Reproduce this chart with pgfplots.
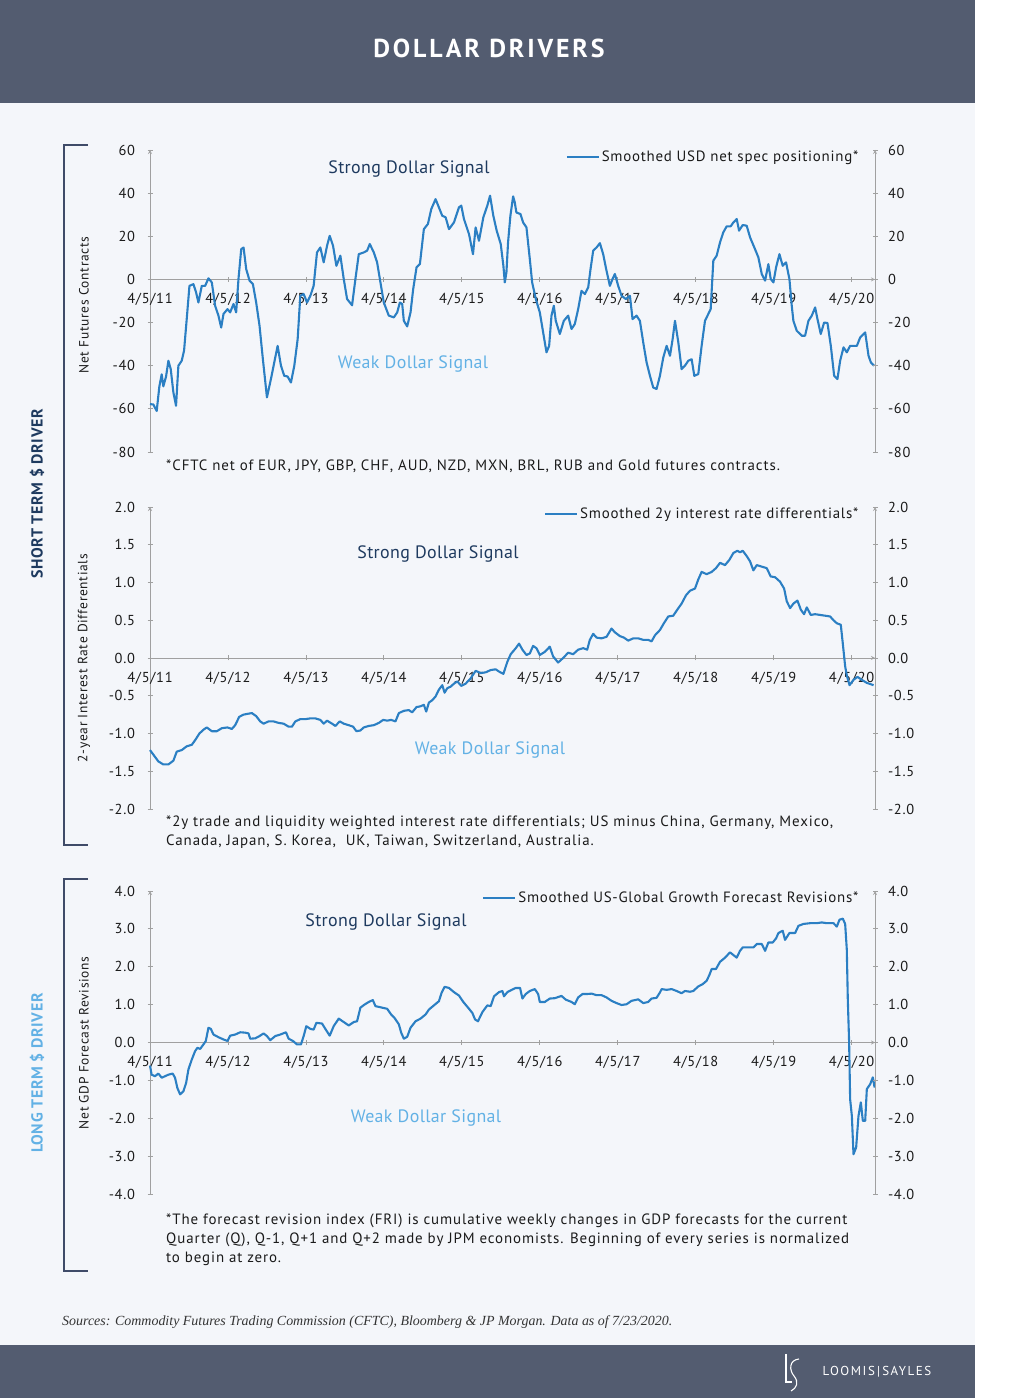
\documentclass[border=0pt]{standalone}
\usepackage{pgfplots}
\pgfplotsset{compat=1.18}
\usepackage{pgfplotstable}
\usepackage{fontspec}
\setmainfont{PT Sans}
\newfontfamily\srcfont{Liberation Serif}
\newfontfamily\tickfont[LetterSpace=5]{PT Sans}
\newfontfamily\spfont[LetterSpace=6]{PT Sans}
\definecolor{hdr}{HTML}{535C70}
\definecolor{bg}{HTML}{F4F6FA}
\definecolor{lineblue}{HTML}{2B7FC3}
\definecolor{navy}{HTML}{1E3A5F}
\definecolor{lightblue}{HTML}{62B1E5}
\definecolor{axgray}{HTML}{A0A0A0}
\definecolor{brk}{HTML}{3F4B68}
\definecolor{txt}{HTML}{1A1A1A}

\pgfplotstableread{
x y
0.000 -57.8
0.043 -58
0.086 -61
0.120 -49.6
0.150 -44
0.171 -49.6
0.206 -45
0.236 -37.7
0.266 -41.6
0.300 -52.4
0.334 -58.6
0.364 -40
0.407 -37.7
0.437 -33
0.471 -18.4
0.506 -3
0.557 -2.2
0.591 -6
0.621 -10.7
0.664 -3
0.707 -3
0.750 0.5
0.793 -1.4
0.835 -12.2
0.878 -16.8
0.913 -22.3
0.943 -16
0.994 -13.8
1.028 -15.3
1.071 -11.4
1.105 -15.3
1.135 0.2
1.170 14
1.200 14.8
1.234 4.8
1.277 -0.6
1.320 -2.2
1.362 -10.7
1.405 -21.5
1.448 -37
1.500 -54.7
1.551 -46.2
1.594 -38.5
1.637 -30.8
1.680 -40
1.722 -44.7
1.765 -45
1.808 -47.8
1.851 -40
1.894 -27.7
1.928 -7.6
1.971 -6.8
2.014 -10.7
2.057 -7.6
2.099 -3
2.142 12.5
2.185 14.8
2.228 7.9
2.271 15.6
2.305 20.2
2.348 15.6
2.391 6.3
2.442 11
2.485 0.2
2.528 -9.1
2.592 -12
2.635 0.2
2.678 11.7
2.742 12.5
2.785 13.3
2.819 16.4
2.871 12.5
2.913 7.9
2.956 -1.4
2.999 -10.7
3.063 -16.8
3.128 -17.6
3.171 -15.3
3.205 -10.7
3.235 -11.4
3.256 -19.2
3.299 -21.8
3.342 -15.3
3.376 -4.5
3.419 5.6
3.462 7.1
3.513 23.3
3.565 25.7
3.608 32.6
3.663 37.2
3.697 34.2
3.749 29.5
3.792 28.8
3.835 23.3
3.899 26.4
3.963 33.4
3.993 34.2
4.027 28
4.092 21
4.143 11.7
4.177 24.1
4.220 17.9
4.276 28.8
4.327 34.2
4.362 38.8
4.404 29.5
4.447 22.6
4.499 16.4
4.533 6.3
4.551 -1.4
4.572 3.2
4.593 17.2
4.623 29.5
4.658 38.5
4.679 35.7
4.700 31
4.752 30.3
4.786 26.4
4.829 24.1
4.872 9.4
4.902 -1.4
4.949 -9.1
5.000 -15.3
5.043 -24.6
5.086 -33.8
5.120 -30.8
5.150 -16.8
5.180 -12.2
5.205 -19.2
5.257 -25.3
5.308 -19.2
5.364 -16.8
5.407 -23
5.449 -20.7
5.492 -13.8
5.535 -5.3
5.578 -6.8
5.621 -3.7
5.651 4.8
5.685 13.3
5.728 14.8
5.771 16.8
5.813 11.7
5.856 4
5.899 -3
5.933 0.2
5.963 2.5
6.006 -3
6.049 -7.6
6.104 -9.1
6.156 -7.6
6.190 -18.4
6.241 -16.8
6.284 -19.2
6.327 -29.2
6.370 -38.5
6.413 -44.7
6.455 -50.1
6.498 -50.8
6.541 -44.7
6.584 -36.2
6.627 -30.8
6.670 -35.4
6.704 -27.7
6.734 -19.2
6.777 -29.2
6.819 -41.6
6.862 -40
6.905 -37.7
6.948 -37
6.982 -44.7
7.033 -43.9
7.076 -30.8
7.119 -19.2
7.162 -16
7.192 -13.8
7.226 8.7
7.269 11
7.312 17.2
7.354 21.8
7.397 24.6
7.449 24.6
7.483 26.4
7.526 28
7.556 22.6
7.603 25.2
7.654 24.9
7.697 19.5
7.761 14
7.804 10.2
7.847 2.5
7.890 -0.6
7.932 7.1
7.962 0.2
7.997 -1.4
8.031 5.6
8.074 11.7
8.116 6.3
8.159 7.9
8.202 0.2
8.232 -12.2
8.253 -19.2
8.296 -23.8
8.360 -26.1
8.403 -26.1
8.446 -19.2
8.489 -16.8
8.532 -13
8.562 -18.4
8.604 -25.3
8.647 -20
8.690 -20.2
8.733 -30.8
8.776 -44.7
8.818 -46.2
8.853 -37.7
8.896 -31.5
8.938 -33.8
8.981 -30.8
9.067 -30.8
9.110 -26.9
9.174 -24.6
9.217 -35.4
9.247 -38.5
9.289 -40
}\dataA

\pgfplotstableread{
x y
0.000 -1.22
0.043 -1.28
0.107 -1.37
0.171 -1.41
0.236 -1.41
0.300 -1.36
0.343 -1.24
0.407 -1.22
0.471 -1.17
0.536 -1.15
0.578 -1.09
0.634 -1.00
0.686 -0.95
0.728 -0.92
0.793 -0.97
0.857 -0.97
0.921 -0.93
0.994 -0.92
1.050 -0.94
1.093 -0.89
1.144 -0.78
1.200 -0.75
1.251 -0.74
1.307 -0.73
1.362 -0.77
1.414 -0.84
1.457 -0.87
1.521 -0.84
1.585 -0.84
1.650 -0.86
1.714 -0.87
1.778 -0.91
1.821 -0.91
1.864 -0.84
1.928 -0.81
1.992 -0.81
2.057 -0.80
2.121 -0.80
2.185 -0.82
2.228 -0.87
2.271 -0.83
2.335 -0.87
2.378 -0.90
2.434 -0.84
2.485 -0.87
2.549 -0.89
2.605 -0.91
2.648 -0.97
2.699 -0.96
2.742 -0.92
2.806 -0.90
2.871 -0.89
2.935 -0.86
2.991 -0.82
3.042 -0.83
3.093 -0.82
3.149 -0.84
3.192 -0.73
3.256 -0.70
3.320 -0.69
3.363 -0.72
3.419 -0.65
3.470 -0.64
3.513 -0.62
3.543 -0.71
3.578 -0.59
3.620 -0.56
3.663 -0.51
3.706 -0.42
3.749 -0.36
3.779 -0.46
3.813 -0.40
3.856 -0.38
3.899 -0.34
3.942 -0.31
3.993 -0.37
4.049 -0.34
4.113 -0.27
4.177 -0.17
4.242 -0.20
4.306 -0.19
4.370 -0.16
4.434 -0.15
4.477 -0.18
4.533 -0.21
4.584 -0.05
4.627 0.05
4.692 0.13
4.734 0.19
4.777 0.11
4.829 0.04
4.872 0.06
4.914 0.16
4.957 0.13
5.000 0.04
5.064 0.08
5.128 0.15
5.171 0.02
5.235 -0.06
5.300 0.00
5.364 0.07
5.428 0.05
5.492 0.11
5.557 0.13
5.608 0.11
5.642 0.24
5.685 0.32
5.728 0.27
5.792 0.26
5.856 0.28
5.920 0.39
5.963 0.34
6.027 0.29
6.079 0.27
6.134 0.23
6.199 0.26
6.263 0.26
6.327 0.24
6.391 0.24
6.434 0.22
6.477 0.30
6.541 0.37
6.592 0.46
6.648 0.55
6.712 0.56
6.764 0.64
6.819 0.72
6.875 0.83
6.926 0.89
6.991 0.92
7.033 1.04
7.076 1.14
7.140 1.11
7.205 1.14
7.260 1.19
7.312 1.26
7.376 1.23
7.432 1.30
7.483 1.39
7.534 1.42
7.568 1.40
7.603 1.42
7.654 1.35
7.697 1.28
7.740 1.16
7.783 1.23
7.847 1.21
7.911 1.19
7.962 1.08
8.018 1.07
8.082 1.01
8.134 0.92
8.168 0.75
8.211 0.66
8.253 0.72
8.305 0.76
8.348 0.64
8.390 0.58
8.425 0.67
8.476 0.57
8.532 0.58
8.596 0.57
8.660 0.56
8.724 0.55
8.767 0.50
8.810 0.46
8.861 0.44
8.887 0.19
8.917 -0.11
8.938 -0.23
8.973 -0.36
9.024 -0.29
9.075 -0.25
9.131 -0.29
9.195 -0.33
9.281 -0.36
}\dataB

\pgfplotstableread{
x y
0.000 -0.61
0.021 -0.85
0.064 -0.89
0.107 -0.82
0.150 -0.93
0.193 -0.89
0.236 -0.85
0.291 -0.82
0.321 -0.93
0.351 -1.20
0.386 -1.37
0.428 -1.29
0.463 -1.07
0.493 -0.71
0.536 -0.45
0.578 -0.23
0.608 -0.14
0.643 -0.17
0.686 -0.05
0.716 0.04
0.750 0.39
0.780 0.36
0.814 0.21
0.878 0.14
0.943 0.08
0.994 0.04
1.028 0.18
1.093 0.21
1.157 0.27
1.221 0.26
1.264 0.24
1.285 0.10
1.350 0.11
1.405 0.17
1.457 0.24
1.500 0.17
1.542 0.06
1.607 0.17
1.671 0.21
1.744 0.27
1.778 0.10
1.834 0.04
1.885 -0.05
1.937 -0.05
1.971 0.17
2.005 0.43
2.057 0.36
2.099 0.34
2.134 0.52
2.207 0.50
2.249 0.36
2.305 0.18
2.356 0.43
2.421 0.63
2.485 0.54
2.549 0.45
2.614 0.54
2.656 0.56
2.699 0.92
2.751 1.00
2.806 1.07
2.858 1.12
2.892 0.96
2.956 0.93
3.042 0.89
3.093 0.74
3.136 0.65
3.192 0.48
3.222 0.26
3.256 0.10
3.299 0.15
3.342 0.39
3.406 0.56
3.470 0.63
3.535 0.74
3.578 0.87
3.642 0.98
3.706 1.09
3.740 1.31
3.779 1.47
3.835 1.44
3.899 1.33
3.963 1.24
4.019 1.07
4.092 0.89
4.135 0.78
4.169 0.61
4.207 0.56
4.263 0.80
4.327 0.98
4.370 0.96
4.413 1.22
4.477 1.33
4.520 1.36
4.541 1.22
4.584 1.33
4.649 1.40
4.692 1.44
4.747 1.44
4.777 1.16
4.820 1.28
4.872 1.36
4.936 1.41
4.979 1.28
5.000 1.07
5.064 1.07
5.128 1.16
5.193 1.17
5.278 1.23
5.334 1.13
5.407 1.07
5.449 1.01
5.492 1.19
5.548 1.28
5.608 1.28
5.664 1.29
5.728 1.25
5.792 1.25
5.856 1.19
5.920 1.10
5.985 1.04
6.049 0.99
6.113 1.01
6.177 1.10
6.263 1.14
6.327 1.04
6.391 1.07
6.434 1.16
6.498 1.18
6.541 1.32
6.563 1.41
6.627 1.39
6.691 1.41
6.755 1.36
6.819 1.30
6.862 1.36
6.926 1.34
6.969 1.36
7.033 1.48
7.089 1.54
7.140 1.63
7.175 1.78
7.205 1.94
7.260 1.94
7.312 2.13
7.376 2.24
7.440 2.38
7.483 2.31
7.526 2.24
7.568 2.42
7.603 2.51
7.676 2.51
7.740 2.51
7.783 2.60
7.847 2.60
7.890 2.42
7.932 2.64
7.988 2.64
8.031 2.75
8.061 2.89
8.116 2.95
8.146 2.71
8.202 2.89
8.275 2.89
8.318 3.08
8.382 3.13
8.467 3.15
8.553 3.15
8.617 3.17
8.682 3.15
8.767 3.15
8.810 3.06
8.844 3.24
8.887 3.27
8.917 3.13
8.938 2.46
8.951 1.14
8.968 0
8.981 -1.50
9.003 -1.94
9.024 -2.95
9.058 -2.77
9.088 -1.94
9.118 -1.58
9.144 -2.07
9.174 -2.07
9.195 -1.23
9.238 -1.10
9.272 -0.92
9.295 -1.19
}\dataC

\pgfplotsset{
  panelbase/.style={
    scale only axis, width=725bp, height=302bp,
    xmin=0, xmax=9.3,
    anchor=south west,
    tick align=outside, major tick length=5bp,
    tick style={axgray, line width=0.8bp},
    axis line style={-, draw=axgray, line width=0.8bp},
    hide obscured x ticks=false, hide obscured y ticks=false,
    ticklabel style={font=\tickfont\fontsize{14.5}{16}\selectfont, text=txt},
    clip=false,
  },
  leftpanel/.style={panelbase, axis x line=middle, axis y line=left,
    xtick={0,1,2,3,4,5,6,7,8,9},
    xticklabels={4/5/11,4/5/12,4/5/13,4/5/14,4/5/15,4/5/16,4/5/17,4/5/18,4/5/19,4/5/20},
    xticklabel style={yshift=-8bp},
    yticklabel style={xshift=-9bp},
    legend style={at={(rel axis cs:0.980,1.005)}, anchor=north east, draw=none, fill=none,
      inner sep=0pt, font=\tickfont\fontsize{15}{17}\selectfont, text=txt},
    legend cell align=left,
    legend image code/.code={\draw[#1, line width=1.8bp] (0bp,0bp) -- (32bp,0bp);},
  },
  rightpanel/.style={panelbase, axis x line=none, axis y line=right, xtick=\empty,
    yticklabel style={xshift=7bp}},
  dataline/.style={lineblue, line width=2.1bp, line join=round, no marks},
}

\begin{document}
\begin{tikzpicture}
\begin{scope}[x=1bp,y=1bp]
  \fill[white] (0,0) rectangle (1016,1398);
  \fill[bg] (0,53) rectangle (975,1295);
  \fill[hdr] (0,1295) rectangle (975,1398);
  \fill[hdr] (0,0) rectangle (975,53);
\end{scope}

% Panel 1
\begin{axis}[leftpanel, at={(150bp,946bp)}, ymin=-80, ymax=60,
  ytick={-80,-60,-40,-20,0,20,40,60}, yticklabels={-80,-60,-40,-20,0,20,40,60}]
  \addplot[dataline] table[x=x,y=y] {\dataA};
  \addlegendentry{Smoothed USD net spec positioning*}
\end{axis}
\begin{axis}[rightpanel, at={(150bp,946bp)}, ymin=-80, ymax=60,
  ytick={-80,-60,-40,-20,0,20,40,60}, yticklabels={-80,-60,-40,-20,0,20,40,60}]
\end{axis}

% Panel 2
\begin{axis}[leftpanel, at={(150bp,589bp)}, ymin=-2, ymax=2,
  ytick={-2,-1.5,-1,-0.5,0,0.5,1,1.5,2}, yticklabels={-2.0,-1.5,-1.0,-0.5,0.0,0.5,1.0,1.5,2.0}]
  \addplot[dataline] table[x=x,y=y] {\dataB};
  \addlegendentry{Smoothed 2y interest rate differentials*}
\end{axis}
\begin{axis}[rightpanel, at={(150bp,589bp)}, ymin=-2, ymax=2,
  ytick={-2,-1.5,-1,-0.5,0,0.5,1,1.5,2}, yticklabels={-2.0,-1.5,-1.0,-0.5,0.0,0.5,1.0,1.5,2.0}]
\end{axis}

% Panel 3
\begin{axis}[leftpanel, at={(150bp,204bp)}, height=303bp, ymin=-4, ymax=4,
  ytick={-4,-3,-2,-1,0,1,2,3,4}, yticklabels={-4.0,-3.0,-2.0,-1.0,0.0,1.0,2.0,3.0,4.0}]
  \addplot[dataline] table[x=x,y=y] {\dataC};
  \addlegendentry{Smoothed US-Global Growth Forecast Revisions*}
\end{axis}
\begin{axis}[rightpanel, at={(150bp,204bp)}, height=303bp, ymin=-4, ymax=4,
  ytick={-4,-3,-2,-1,0,1,2,3,4}, yticklabels={-4.0,-3.0,-2.0,-1.0,0.0,1.0,2.0,3.0,4.0}]
\end{axis}

\begin{scope}[x=1bp,y=1bp]
  % title
  \node[white, font=\fontsize{26}{30}\selectfont\bfseries\addfontfeatures{LetterSpace=11}] at (489,1350) {DOLLAR DRIVERS};
  % signal labels
  \begin{scope}[every node/.style={font=\fontsize{18}{20}\selectfont\addfontfeatures{LetterSpace=2}}]
  \node[navy] at (409,1229) {Strong Dollar Signal};
  \node[lightblue] at (413,1034) {Weak Dollar Signal};
  \node[navy] at (438,844) {Strong Dollar Signal};
  \node[lightblue] at (490,648) {Weak Dollar Signal};
  \node[navy] at (386,476) {Strong Dollar Signal};
  \node[lightblue] at (426,280) {Weak Dollar Signal};
  \end{scope}
  % y labels
  \begin{scope}[every node/.style={txt, rotate=90, font=\fontsize{13.5}{15}\selectfont\addfontfeatures{LetterSpace=5}}]
  \node at (84,1093) {Net Futures Contracts};
  \node at (84,740) {2-year Interest Rate Differentials};
  \node at (84,355) {Net GDP Forecast Revisions};
  \end{scope}
  % side labels
  \node[navy, rotate=90, font=\fontsize{16}{18}\selectfont\bfseries\addfontfeatures{LetterSpace=4}] at (37,904) {SHORT TERM \$ DRIVER};
  \node[lightblue, rotate=90, font=\fontsize{16}{18}\selectfont\bfseries\addfontfeatures{LetterSpace=4}] at (37,325) {LONG TERM \$ DRIVER};
  % brackets
  \draw[brk, line width=1.3bp] (88,1253) -- (64,1253) -- (64,553) -- (88,553);
  \draw[brk, line width=1.3bp] (88,519) -- (64,519) -- (64,127) -- (88,127);
  % footnotes
  \begin{scope}[every node/.style={anchor=base west, inner sep=0pt, txt, font=\spfont\fontsize{15}{17}\selectfont}]
    \node at (166,927) {*CFTC net of EUR, JPY, GBP, CHF, AUD, NZD, MXN, BRL, RUB and Gold futures contracts.};
    \node at (166,571.3) {*2y trade and liquidity weighted interest rate differentials; US minus China, Germany, Mexico,};
    \node at (166,552) {Canada, Japan, S. Korea,\ \ UK, Taiwan, Switzerland, Australia.};
    \node at (166,173) {*The forecast revision index (FRI) is cumulative weekly changes in GDP forecasts for the current};
    \node at (166,154) {Quarter (Q), Q-1, Q+1 and Q+2 made by JPM economists. Beginning of every series is normalized};
    \node at (166,135.3) {to begin at zero.};
  \end{scope}
  % sources
  \node[anchor=base west, inner sep=0pt, text=black!80, font=\fontsize{14}{16}\selectfont\srcfont\itshape] at (62,72)
    {Sources: Commodity Futures Trading Commission (CFTC), Bloomberg \& JP Morgan. Data as of 7/23/2020.};
  % footer logo
  \draw[white, line width=1.1bp] (786,44) -- (786,16) -- (792,16);
  \draw[white, line width=1.1bp] (799,39) .. controls (789,38) and (789,28) .. (794,22) .. controls (799,16) and (797,10) .. (791,7);
  \node[white, font=\fontsize{13}{15}\selectfont\addfontfeatures{LetterSpace=12}] at (877,26) {LOOMIS\,\textbar\,SAYLES};
\end{scope}
\end{tikzpicture}
\end{document}
